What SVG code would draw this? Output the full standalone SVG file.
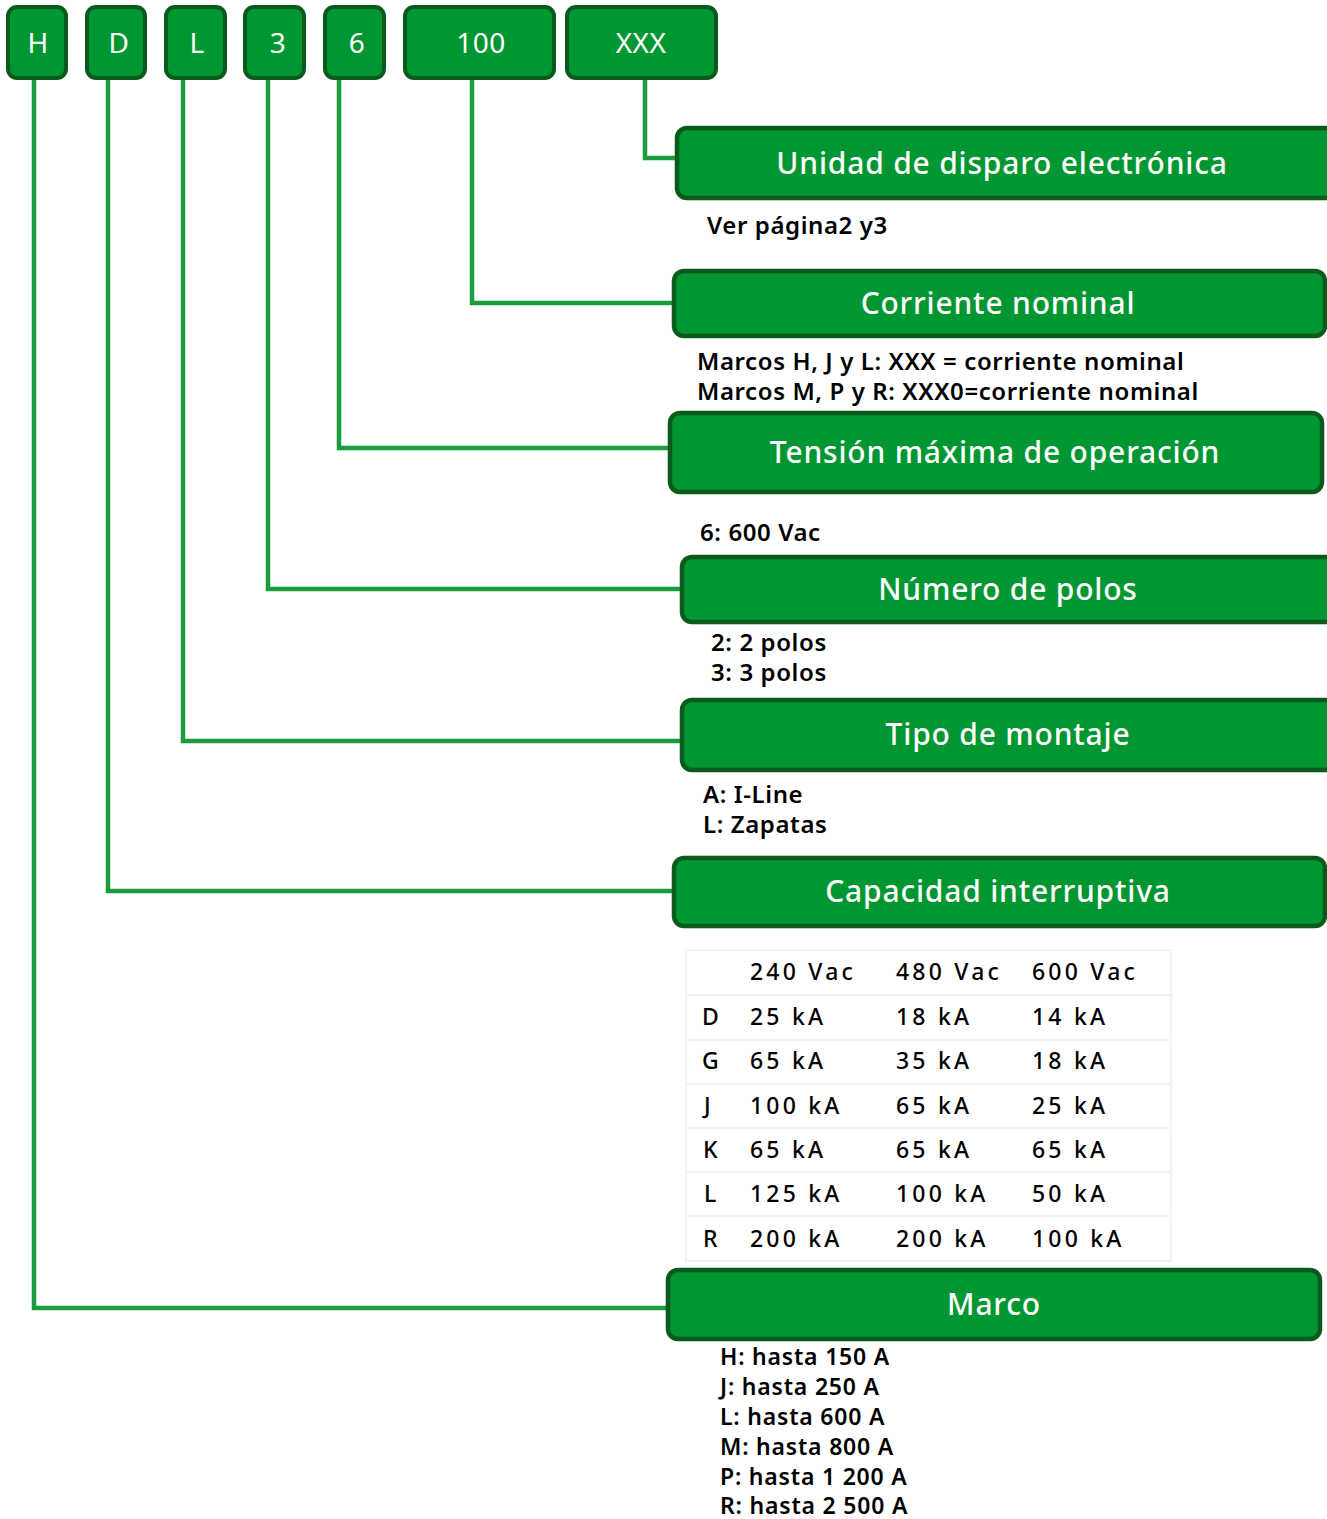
<svg xmlns="http://www.w3.org/2000/svg" width="1327" height="1519" viewBox="0 0 1327 1519">
<style>
.code rect{fill:#009632;stroke:#0b5a1c;stroke-width:4}
.code text{fill:#fff;font-family:"Noto Sans",sans-serif;font-size:28px;text-anchor:middle;letter-spacing:0.5px}
.title rect{fill:#009632;stroke:#0b5a1c;stroke-width:4.5}
.title text{fill:#fff;font-family:"Noto Sans",sans-serif;font-size:30px;font-weight:500;text-anchor:middle;letter-spacing:0.8px}
.desc{fill:#000;font-family:"Noto Sans",sans-serif;font-size:24px;font-weight:600;letter-spacing:0.6px}
.list{fill:#000;font-family:"Noto Sans",sans-serif;font-size:23px;font-weight:600;letter-spacing:0.8px}
.tbl{fill:#000;font-family:"Noto Sans",sans-serif;font-size:23px;font-weight:500;letter-spacing:3.2px}
.conn{fill:none;stroke:#1a9b3c;stroke-width:4.5}
.grid{stroke:#f0f0f0;stroke-width:2}
</style>
<rect width="1327" height="1519" fill="#fff"/>
<g id="connectors">
<polyline class="conn" points="34,78 34,1308 668,1308"/>
<polyline class="conn" points="108,78 108,891 674,891"/>
<polyline class="conn" points="183,78 183,741 682,741"/>
<polyline class="conn" points="268,78 268,589 682,589"/>
<polyline class="conn" points="339,78 339,448 670,448"/>
<polyline class="conn" points="472,78 472,303 674,303"/>
<polyline class="conn" points="645,78 645,158 677,158"/>
</g>
<g id="code-H" class="code"><rect x="8" y="7" width="58" height="71" rx="9"/><text x="38" y="53">H</text></g>
<g id="code-D" class="code"><rect x="87" y="7" width="58" height="71" rx="9"/><text x="119" y="53">D</text></g>
<g id="code-L" class="code"><rect x="166" y="7" width="59" height="71" rx="9"/><text x="197" y="53">L</text></g>
<g id="code-3" class="code"><rect x="245" y="7" width="59" height="71" rx="9"/><text x="278" y="53">3</text></g>
<g id="code-6" class="code"><rect x="325" y="7" width="59" height="71" rx="9"/><text x="357" y="53">6</text></g>
<g id="code-100" class="code"><rect x="405" y="7" width="149" height="71" rx="9"/><text x="481" y="53">100</text></g>
<g id="code-XXX" class="code"><rect x="567" y="7" width="149" height="71" rx="9"/><text x="641" y="53">XXX</text></g>

<g id="title-unidad" class="title"><rect x="677" y="128" width="660" height="70" rx="10"/><text x="1002" y="174">Unidad de disparo electrónica</text></g>
<text class="desc" x="707" y="234">Ver página2 y3</text>

<g id="title-corriente" class="title"><rect x="674" y="271" width="651" height="65" rx="10"/><text x="998" y="314">Corriente nominal</text></g>
<text class="desc" x="697" y="370">Marcos H, J y L: XXX = corriente nominal</text>
<text class="desc" x="697" y="400">Marcos M, P y R: XXX0=corriente nominal</text>

<g id="title-tension" class="title"><rect x="670" y="413" width="652" height="79" rx="10"/><text x="995" y="463">Tensión máxima de operación</text></g>
<text class="desc" x="700" y="541">6: 600 Vac</text>

<g id="title-polos" class="title"><rect x="682" y="557" width="660" height="65" rx="10"/><text x="1008" y="600">Número de polos</text></g>
<text class="desc" x="711" y="651">2: 2 polos</text>
<text class="desc" x="711" y="681">3: 3 polos</text>

<g id="title-montaje" class="title"><rect x="682" y="700" width="660" height="70" rx="10"/><text x="1008" y="745">Tipo de montaje</text></g>
<text class="desc" x="703" y="803">A: I-Line</text>
<text class="desc" x="703" y="833">L: Zapatas</text>

<g id="title-capacidad" class="title"><rect x="674" y="858" width="651" height="68" rx="10"/><text x="998" y="902">Capacidad interruptiva</text></g>

<g id="table">
<rect x="686" y="950" width="485" height="311" fill="#fff" stroke="#f3f3f3" stroke-width="2"/>
<line class="grid" x1="686" y1="995" x2="1171" y2="995"/>
<line class="grid" x1="686" y1="1040" x2="1171" y2="1040"/>
<line class="grid" x1="686" y1="1084" x2="1171" y2="1084"/>
<line class="grid" x1="686" y1="1128" x2="1171" y2="1128"/>
<line class="grid" x1="686" y1="1172" x2="1171" y2="1172"/>
<line class="grid" x1="686" y1="1216" x2="1171" y2="1216"/>
<text class="tbl" x="750" y="980">240 Vac</text><text class="tbl" x="896" y="980">480 Vac</text><text class="tbl" x="1032" y="980">600 Vac</text>
<text class="tbl" x="702" y="1025">D</text><text class="tbl" x="750" y="1025">25 kA</text><text class="tbl" x="896" y="1025">18 kA</text><text class="tbl" x="1032" y="1025">14 kA</text>
<text class="tbl" x="702" y="1069">G</text><text class="tbl" x="750" y="1069">65 kA</text><text class="tbl" x="896" y="1069">35 kA</text><text class="tbl" x="1032" y="1069">18 kA</text>
<text class="tbl" x="704" y="1114">J</text><text class="tbl" x="750" y="1114">100 kA</text><text class="tbl" x="896" y="1114">65 kA</text><text class="tbl" x="1032" y="1114">25 kA</text>
<text class="tbl" x="703" y="1158">K</text><text class="tbl" x="750" y="1158">65 kA</text><text class="tbl" x="896" y="1158">65 kA</text><text class="tbl" x="1032" y="1158">65 kA</text>
<text class="tbl" x="704" y="1202">L</text><text class="tbl" x="750" y="1202">125 kA</text><text class="tbl" x="896" y="1202">100 kA</text><text class="tbl" x="1032" y="1202">50 kA</text>
<text class="tbl" x="703" y="1247">R</text><text class="tbl" x="750" y="1247">200 kA</text><text class="tbl" x="896" y="1247">200 kA</text><text class="tbl" x="1032" y="1247">100 kA</text>
</g>

<g id="title-marco" class="title"><rect x="668" y="1270" width="652" height="69" rx="10"/><text x="994" y="1315">Marco</text></g>
<text class="list" x="720" y="1365">H: hasta 150 A</text>
<text class="list" x="720" y="1395">J: hasta 250 A</text>
<text class="list" x="720" y="1425">L: hasta 600 A</text>
<text class="list" x="720" y="1455">M: hasta 800 A</text>
<text class="list" x="720" y="1485">P: hasta 1 200 A</text>
<text class="list" x="720" y="1514">R: hasta 2 500 A</text>
</svg>
